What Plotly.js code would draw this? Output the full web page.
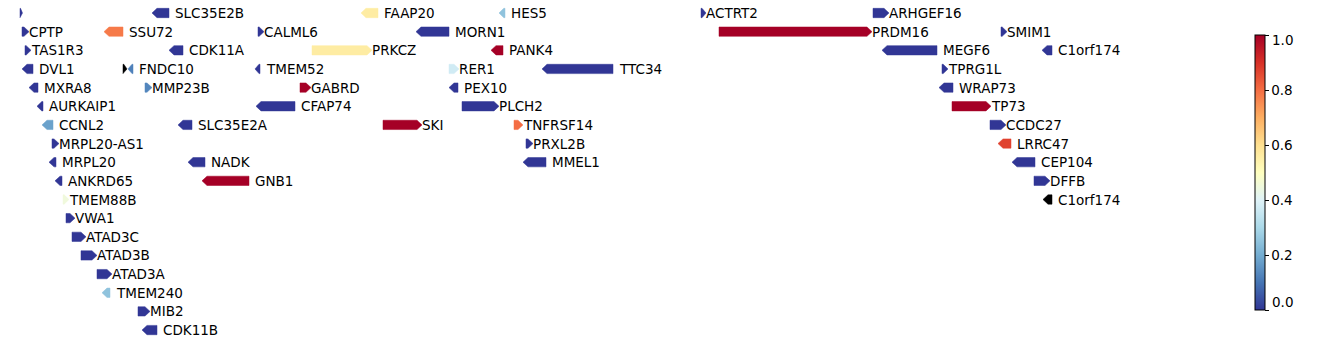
<!DOCTYPE html>
<html><head><meta charset="utf-8">
<script src="https://cdn.plot.ly/plotly-3.0.1.min.js"></script>
<style>body{margin:0;background:#fff}</style>
</head><body><div id="chart" style="width:1338px;height:344px"></div>
<script>
// Gene track data (positions in track units, rows = stacking level)
const genes   = ["", "SLC35E2B", "FAAP20", "HES5", "ACTRT2", "ARHGEF16",
  "CPTP", "SSU72", "CALML6", "MORN1", "PRDM16", "SMIM1",
  "TAS1R3", "CDK11A", "PRKCZ", "PANK4", "MEGF6", "C1orf174",
  "DVL1", "", "FNDC10", "TMEM52", "RER1", "TTC34", "TPRG1L",
  "MXRA8", "MMP23B", "GABRD", "PEX10", "WRAP73",
  "AURKAIP1", "CFAP74", "PLCH2", "TP73",
  "CCNL2", "SLC35E2A", "SKI", "TNFRSF14", "CCDC27",
  "MRPL20-AS1", "PRXL2B", "LRRC47",
  "MRPL20", "NADK", "MMEL1", "CEP104",
  "ANKRD65", "GNB1", "DFFB",
  "TMEM88B", "C1orf174",
  "VWA1", "ATAD3C", "ATAD3B", "ATAD3A", "TMEM240", "MIB2", "CDK11B"];
const starts  = [20, 152, 361, 499, 701, 873,
  22, 104, 258, 416, 719, 1001,
  25, 169, 312, 491, 882, 1042,
  22, 123, 128, 255, 449, 542, 942,
  29, 145, 300, 449, 939,
  37, 256, 462, 952,
  42, 178, 383, 514, 990,
  52, 526, 998,
  49, 188, 523, 1012,
  55, 202, 1034,
  63, 1043,
  66, 72, 81, 97, 102, 138, 142];
const ends    = [22.5, 169, 378, 505, 706, 889,
  29, 123, 264, 449, 872, 1007,
  31, 183, 372, 503, 937, 1052,
  33, 127, 133, 260, 459, 613, 948,
  38, 152, 311, 458, 953,
  43, 295, 499, 991,
  53, 192, 422, 523, 1006,
  59, 533, 1011,
  56, 205, 546, 1035,
  62, 249, 1050,
  69, 1052,
  75, 86, 97, 112, 110, 150, 157];
const strands = [1, -1, -1, -1, 1, 1,
  1, -1, 1, -1, 1, 1,
  1, -1, 1, -1, -1, -1,
  -1, 1, -1, -1, 1, -1, 1,
  -1, 1, 1, -1, -1,
  -1, -1, 1, 1,
  -1, -1, 1, 1, 1,
  1, 1, -1,
  -1, -1, -1, -1,
  -1, -1, 1,
  1, -1,
  1, 1, 1, 1, -1, 1, -1];
const rows    = [0, 0, 0, 0, 0, 0,
  1, 1, 1, 1, 1, 1,
  2, 2, 2, 2, 2, 2,
  3, 3, 3, 3, 3, 3, 3,
  4, 4, 4, 4, 4,
  5, 5, 5, 5,
  6, 6, 6, 6, 6,
  7, 7, 7,
  8, 8, 8, 8,
  9, 9, 9,
  10, 10,
  11, 12, 13, 14, 15, 16, 17];
const values  = [0, 0, 0.56, 0.25, 0, 0,
  0, 0.78, 0, 0, 1, 0,
  0, 0, 0.56, 1, 0, 0,
  0, null, 0.12, 0, 0.37, 0, 0,
  0, 0.13, 1, 0, 0,
  0, 0, 0, 1,
  0.18, 0, 1, 0.8, 0,
  0, 0, 0.87,
  0, 0, 0, 0,
  0, 1, 0,
  0.45, null,
  0, 0, 0, 0, 0.25, 0, 0];

const cbTicks = [0, 0.2, 0.4, 0.6, 0.8, 1.0];

const stops = ["#313695","#4575b4","#74add1","#abd9e9","#e0f3f8","#ffffbf",
               "#fee090","#fdae61","#f46d43","#d73027","#a50026"];
const colorscale = stops.map((c,i)=>[i/(stops.length-1), c]);
function hex2rgb(h){return [parseInt(h.slice(1,3),16),parseInt(h.slice(3,5),16),parseInt(h.slice(5,7),16)];}
function cmap(v){
  if (v === null || v === undefined) return "rgb(0,0,0)";
  v = Math.max(0, Math.min(1, v));
  const p = v*(stops.length-1); const i = Math.min(Math.floor(p), stops.length-2); const f = p-i;
  const a = hex2rgb(stops[i]), b = hex2rgb(stops[i+1]);
  return "rgb(" + a.map((x,k)=>Math.round(x+(b[k]-x)*f)).join(",") + ")";
}

const FONT = {family:"DejaVu Sans", size:13.5, color:"#000"};
const HEAD = 5, HW = 0.25;
const traces = [];
const annotations = [];
for (let i = 0; i < genes.length; i++) {
  const s = starts[i], e = ends[i], y = rows[i];
  const h = Math.min(HEAD, (e - s) * 0.8);
  let xs, ys;
  if (strands[i] > 0) {
    xs = [s, e-h, e, e-h, s, s];
    ys = [y-HW, y-HW, y, y+HW, y+HW, y-HW];
  } else {
    xs = [e, s+h, s, s+h, e, e];
    ys = [y-HW, y-HW, y, y+HW, y+HW, y-HW];
  }
  const col = cmap(values[i]);
  traces.push({type:"scatter", mode:"lines", x:xs, y:ys, fill:"toself",
    fillcolor: col, line:{color: col, width:0.5}, hoverinfo:"skip", showlegend:false});
  if (genes[i]) {
    annotations.push({x:e, y:y, xref:"x", yref:"y", text:genes[i], showarrow:false,
      xanchor:"left", yanchor:"middle", xshift: strands[i] > 0 ? -2 : 4, font:FONT});
  }
}
// colorbar carrier
const cbTop = 35, cbBot = 310;
traces.push({type:"scatter", mode:"markers", x:[-100], y:[-100], hoverinfo:"skip", showlegend:false,
  marker:{color:[0.5], cmin:0, cmax:1, colorscale:colorscale, size:1, showscale:true,
    colorbar:{xref:"container", yref:"container", x:1255/1338, xanchor:"left",
      y:1-cbTop/344, yanchor:"top", len:(cbBot-cbTop)/344, lenmode:"fraction", thickness:10, thicknessmode:"pixels",
      xpad:0, ypad:0, outlinewidth:1, outlinecolor:"#000",
      tickvals:cbTicks, ticktext:cbTicks.map(v=>(v===0||v===1)?"":v.toFixed(1)), ticks:"outside", ticklen:3.5, tickwidth:1, tickcolor:"#000",
      tickfont:FONT}}});
// end tick labels of the colour bar sit slightly inside the bar ends, as in the reference
annotations.push({xref:"paper", yref:"paper", x:(1270)/1230, y:1-40/344, text:"1.0", showarrow:false,
  xanchor:"left", yanchor:"middle", font:FONT});
annotations.push({xref:"paper", yref:"paper", x:(1270)/1230, y:1-302/344, text:"0.0", showarrow:false,
  xanchor:"left", yanchor:"middle", font:FONT});

const layout = {
  width:1338, height:344, margin:{l:0, r:108, t:0, b:0},
  paper_bgcolor:"#fff", plot_bgcolor:"#fff",
  xaxis:{range:[0,1230], visible:false, fixedrange:true},
  yaxis:{range:[17.748,-0.697], visible:false, fixedrange:true},
  annotations: annotations, showlegend:false
};
Plotly.newPlot("chart", traces, layout, {displayModeBar:false, staticPlot:true});
</script></body></html>
